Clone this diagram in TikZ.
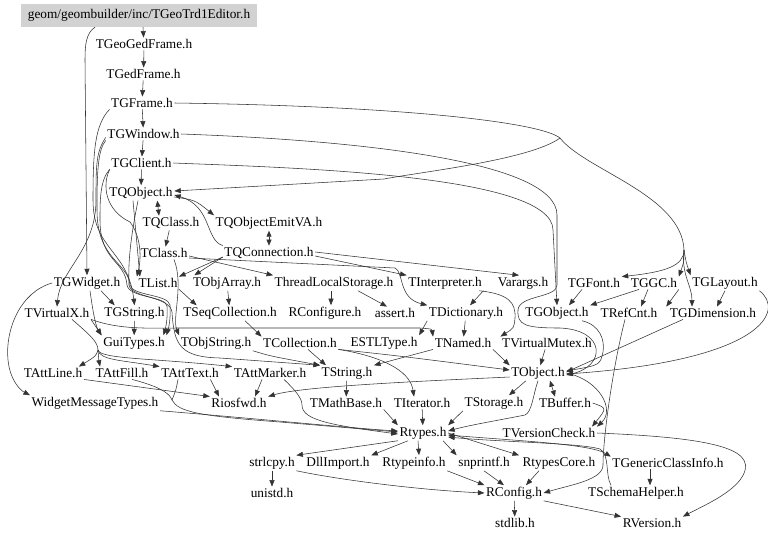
\documentclass[tikz,border=0pt]{standalone}
\usepackage{fontspec}
\setmainfont{Liberation Serif}
\usetikzlibrary{arrows.meta}
\newcommand\fsz{\fontsize{13.3}{16}\selectfont}
\tikzset{
  hdr/.style={font=\fsz, inner sep=1.5pt},
  ln/.style={draw=black!80, line width=0.55pt},
  e/.style={ln, -{Triangle[length=6.5pt,width=5pt]}},
  both/.style={ln, {Triangle[length=6pt,width=5pt]}-{Triangle[length=6pt,width=5pt]}},
}
\begin{document}
\begin{tikzpicture}[x=1pt,y=-1pt]
\useasboundingbox[fill=white] (0,0) rectangle (768,539);
% nodes
\node[hdr, fill=gray!35, minimum width=236pt, minimum height=23pt] (root) at (139,15.5) {geom/geombuilder/inc/TGeoTrd1Editor.h};
\node[hdr] (geoged) at (144,44) {TGeoGedFrame.h};
\node[hdr] (gedframe) at (143.5,74) {TGedFrame.h};
\node[hdr] (gframe) at (142,103) {TGFrame.h};
\node[hdr] (gwindow) at (143.5,134) {TGWindow.h};
\node[hdr] (gclient) at (141.5,163) {TGClient.h};
\node[hdr] (qobject) at (141,193) {TQObject.h};
\node[hdr] (qclass) at (171,223) {TQClass.h};
\node[hdr] (qemit) at (269,223) {TQObjectEmitVA.h};
\node[hdr] (tclass) at (164,253) {TClass.h};
\node[hdr] (qconn) at (269,253) {TQConnection.h};
\node[hdr] (gwidget) at (87,283) {TGWidget.h};
\node[hdr] (tlist) at (158,283) {TList.h};
\node[hdr] (objarray) at (227,283) {TObjArray.h};
\node[hdr] (tls) at (334,283) {ThreadLocalStorage.h};
\node[hdr] (interp) at (445,283) {TInterpreter.h};
\node[hdr] (varargs) at (523,283) {Varargs.h};
\node[hdr] (gfont) at (594,283) {TGFont.h};
\node[hdr] (ggc) at (654,283) {TGGC.h};
\node[hdr] (glayout) at (725,283) {TGLayout.h};
\node[hdr] (vx) at (57,313) {TVirtualX.h};
\node[hdr] (gstring) at (134.5,313) {TGString.h};
\node[hdr] (seqcoll) at (230,313) {TSeqCollection.h};
\node[hdr] (rconfigure) at (325,313) {RConfigure.h};
\node[hdr] (assert) at (395,313) {assert.h};
\node[hdr] (dict) at (466,313) {TDictionary.h};
\node[hdr] (gobject) at (557,313) {TGObject.h};
\node[hdr] (refcnt) at (629,313) {TRefCnt.h};
\node[hdr] (gdim) at (713,313) {TGDimension.h};
\node[hdr] (guitypes) at (134,343) {GuiTypes.h};
\node[hdr] (objstring) at (216,343) {TObjString.h};
\node[hdr] (coll) at (300,343) {TCollection.h};
\node[hdr] (estl) at (384,343) {ESTLType.h};
\node[hdr] (named) at (463,343) {TNamed.h};
\node[hdr] (vmutex) at (547,343) {TVirtualMutex.h};
\node[hdr] (attline) at (53,373) {TAttLine.h};
\node[hdr] (attfill) at (122,373) {TAttFill.h};
\node[hdr] (atttext) at (190,373) {TAttText.h};
\node[hdr] (attmarker) at (270,373) {TAttMarker.h};
\node[hdr] (tstring) at (347,373) {TString.h};
\node[hdr] (tobject) at (538,373) {TObject.h};
\node[hdr] (wmt) at (95,403) {WidgetMessageTypes.h};
\node[hdr] (riosfwd) at (239,403) {Riosfwd.h};
\node[hdr] (mathbase) at (346,403) {TMathBase.h};
\node[hdr] (iterator) at (422,403) {TIterator.h};
\node[hdr] (storage) at (494,403) {TStorage.h};
\node[hdr] (buffer) at (565,403) {TBuffer.h};
\node[hdr] (rtypes) at (423,433) {Rtypes.h};
\node[hdr] (vcheck) at (549,433) {TVersionCheck.h};
\node[hdr] (strlcpy) at (272,463) {strlcpy.h};
\node[hdr] (dllimport) at (338,463) {DllImport.h};
\node[hdr] (rtypeinfo) at (414,463) {Rtypeinfo.h};
\node[hdr] (snprintf) at (484,463) {snprintf.h};
\node[hdr] (rtypescore) at (559,463) {RtypesCore.h};
\node[hdr] (gci) at (668,463) {TGenericClassInfo.h};
\node[hdr] (unistd) at (272,493) {unistd.h};
\node[hdr] (rconfig) at (514,493) {RConfig.h};
\node[hdr] (schema) at (636,493) {TSchemaHelper.h};
\node[hdr] (stdlib) at (515,523) {stdlib.h};
\node[hdr] (rversion) at (652,523) {RVersion.h};

% junction points of shared spline trunks
\coordinate (vtx) at (560,138);
\coordinate (fanA) at (684,250);
\coordinate (vxf) at (98,350);
\coordinate (rf) at (172,400);

% top chain
\draw[e] ([xshift=4pt]root.south) -- (geoged);
\draw[e] ([xshift=-44pt]root.south) .. controls (86,33) and (85,45) .. (85,60) -- (gwidget.north);
\draw[e] (geoged) -- (gedframe);
\draw[e] (gedframe) -- (gframe);
\draw[e] (gframe) -- (gwindow);
\draw[e] (gwindow) -- (gclient);
\draw[e] (gclient) -- (qobject);

% TGFrame trunk and fan on the right
\draw[ln] (gframe.east) .. controls (400,106) and (540,122) .. (vtx);
\draw[ln] (vtx) .. controls (585,170) and (682,195) .. (fanA);
\draw[e] (fanA) .. controls (684,266) and (665,272) .. (gfont.north east);
\draw[e] (fanA) .. controls (684,262) .. (ggc.north east);
\draw[e] (fanA) .. controls (686,262) .. (glayout.north west);
\draw[e] (fanA) .. controls (681,275) and (692,285) .. ([xshift=-21pt]gdim.north);
\draw[e] (vtx) .. controls (530,160) and (420,172) .. (384,179) -- ([yshift=2pt]qobject.east);
\draw[e] (gclient.east) .. controls (300,168) and (553,175) .. (553,230) -- (gobject.north);
\draw[e] (gwindow.east) .. controls (350,140) and (557,160) .. (557,215) -- (557,285) .. controls (557,298) and (519,295) .. (518,310) .. controls (517,325) and (525,328) .. (560,328) .. controls (606,330) and (606,366) .. ([yshift=-2pt]tobject.east);

% left cluster
\draw[e] ([yshift=3pt]gwindow.south west) .. controls (96,152) and (96,165) .. (96,200) .. controls (96,250) and (60,270) .. (vx.north);
\draw[e] (gframe.south west) .. controls (95,125) and (93,150) .. (93,200) .. controls (93,250) and (128,250) .. (gstring.north);
\draw[e] (gwindow.south west) .. controls (98,150) and (97,170) .. (97,210) .. controls (97,260) and (128,262) .. (130,285) .. controls (132,296) and (168,294) .. (170,305) .. controls (171,320) and (168,330) .. (guitypes.north east);
\draw[e] (gclient.south west) .. controls (100,180) and (100,200) .. (100,220) .. controls (100,262) and (125,260) .. (127,285) .. controls (129,298) and (166,296) .. (167,306) .. controls (168,320) and (165,330) .. ([xshift=-3pt]guitypes.north east);
\draw[e] (gclient.south west) .. controls (102,185) and (105,210) .. (130,222) .. controls (140,235) and (142,255) .. (tlist.north west);
\draw[e] ([xshift=-8pt]qobject.south) -- ([xshift=3pt]tlist.north west);
\draw[e] ([xshift=-3pt]qobject.south) .. controls (130,240) and (128,265) .. (129,285) .. controls (131,298) and (170,296) .. (172,312) .. controls (174,345) and (180,357) .. (220,358) -- (tstring.north west);

% TQ cluster
\draw[both] ([xshift=-17pt]qobject.south east) -- ([xshift=-12pt]qclass.north);
\draw[e] ([yshift=-4pt]qobject.east) .. controls (195,200) .. (qemit.north west);
\draw[e] (qconn.north west) .. controls (205,240) and (212,206) .. ([yshift=-2pt]qobject.east);
\draw[both] (qemit) -- (qconn);
\draw[e] (qclass) -- (tclass);
\draw[e] ([yshift=-3pt]tclass.east) -- (tls.north west);
\draw[e] ([yshift=-4pt]qconn.west) -- (tlist.north east);
\draw[e] ([yshift=-4pt]qconn.west) -- ([xshift=3pt]objarray.north west);
\draw[e] ([yshift=-5pt]tclass.east) -- (395,268) .. controls (404,272) and (398,298) .. (dict.north west);
\draw[e] ([xshift=10pt]tclass.south) .. controls (184,285) and (172,318) .. (objstring.north west);
\draw[e] ([yshift=-3pt]qconn.east) -- (interp.north west);
\draw[e] ([yshift=1pt]qconn.east) -- ([xshift=-4pt]varargs.north);

% middle rows
\draw[e] (objarray) -- (seqcoll);
\draw[e] (tlist.south east) -- ([xshift=15pt]seqcoll.north west);
\draw[e] ([xshift=-3pt]tls.south) -- ([xshift=6pt]rconfigure.north);
\draw[e] ([xshift=24pt]tls.south) -- ([xshift=-8pt]assert.north);
\draw[e] (interp.south east) -- ([xshift=4pt]dict.north);
\draw[e] ([xshift=-4pt]interp.south east) .. controls (508,294) and (516,302) .. (515,318) .. controls (514,328) .. (vmutex.north west);
\draw[e] (dict) -- (named);
\draw[e] (dict.south west) -- (estl.north east);
\draw[e] (vx.south east) .. controls (120,330) and (150,328) .. (180,328) -- (420,328) .. controls (432,329) .. (named.north west);
\draw[e] ([xshift=15pt]seqcoll.south) -- (coll.north west);
\draw[e] (named.south east) -- (tobject.north west);
\draw[e] (vmutex) -- (tobject);
\draw[e] (named.south west) -- (tstring.north east);
\draw[e] ([xshift=8pt]coll.south) -- ([xshift=6pt]tstring.north west);
\draw[e] (coll.south east) .. controls (400,356) .. ([yshift=3pt]tobject.west);
\draw[e] (coll.south east) .. controls (380,356) and (410,370) .. ([xshift=-8pt]iterator.north);
\draw[e] (objstring.south east) .. controls (270,356) .. (tstring.north west);
\draw[e] ([xshift=14pt]gwidget.south) -- ([xshift=12pt]gstring.north west);
\draw[e] ([xshift=3pt]gwidget.south) .. controls (92,305) and (95,325) .. (guitypes.north west);
\draw[e] (gwidget.west) .. controls (20,292) and (5,330) .. (8,360) .. controls (10,380) and (20,390) .. (wmt.north west);
\draw[e] (gstring) -- (guitypes);
\draw[e] (vx.south east) -- (guitypes.north west);
\draw[ln] ([xshift=15pt]vx.south) .. controls (90,335) and (98,342) .. (vxf);
\draw[e] (vxf) .. controls (96,356) .. ([xshift=-5pt]attline.north east);
\draw[e] (vxf) .. controls (98,356) .. ([xshift=6pt]attfill.north west);
\draw[e] (vxf) .. controls (100,360) and (120,360) .. (atttext.north west);
\draw[e] (vxf) .. controls (100,359) and (150,358) .. (attmarker.north west);

% lower rows
\draw[e] (attline.south east) -- (riosfwd.north west);
\draw[e] ([xshift=-10pt]atttext.south east) -- ([xshift=-20pt]riosfwd.north);
\draw[e] ([xshift=-8pt]attmarker.south) -- ([xshift=16pt]riosfwd.north);
\draw[e] ([yshift=-4pt]tobject.west) .. controls (400,382) and (300,387) .. (riosfwd.north east);
\draw[ln] ([xshift=10pt]attfill.south) .. controls (165,388) and (170,395) .. (rf);
\draw[ln] ([xshift=-12pt]atttext.south) .. controls (176,390) .. (rf);
\draw[e] (rf) .. controls (178,412) and (200,416) .. (280,422) -- ([yshift=1pt]rtypes.west);
\draw[e] ([xshift=14pt]attmarker.south) .. controls (295,390) and (302,398) .. (302,405) .. controls (302,420) and (330,425) .. ([yshift=-1pt]rtypes.west);
\draw[e] (wmt.south east) .. controls (250,418) and (350,428) .. ([yshift=2pt]rtypes.west);
\draw[e] (tstring) -- (mathbase);
\draw[e] (mathbase.south east) -- (rtypes.north west);
\draw[e] (iterator) -- (rtypes);
\draw[e] (storage.south west) -- (rtypes.north east);
\draw[e] (tobject.south) .. controls (533,395) and (532,412) .. (525,415) .. controls (500,420) and (470,425) .. ([yshift=2pt]rtypes.east);
\draw[e] ([xshift=-12pt]tobject.south) -- ([xshift=15pt]storage.north);
\draw[both] ([xshift=12pt]tobject.south) -- ([xshift=-10pt]buffer.north);
\draw[e] (tobject.east) .. controls (600,380) and (615,410) .. (vcheck.north east);
\draw[e] (buffer.east) .. controls (607,408) .. ([xshift=-5pt]vcheck.north east);
\draw[e] ([xshift=25pt]gobject.south) .. controls (600,325) and (605,340) .. (603,352) .. controls (600,365) .. ([yshift=2pt]tobject.east);
\draw[e] ([xshift=-30pt]gdim.south) -- ([yshift=1pt]tobject.east);
\draw[e] (glayout.south east) .. controls (785,310) and (765,360) .. ([yshift=-1pt]tobject.east);
\draw[e] ([xshift=-4pt]refcnt.south) .. controls (612,370) and (603,440) .. (603,465) .. controls (603,480) and (570,485) .. (rconfig.east);
\draw[e] ([xshift=-12pt]gfont.south) -- ([xshift=12pt]gobject.north);
\draw[e] ([xshift=-15pt]ggc.south) -- (gobject.north east);
\draw[e] ([xshift=-6pt]ggc.south) -- ([xshift=12pt]refcnt.north);
\draw[e] (ggc.south east) -- ([xshift=-2pt]gdim.north west);
\draw[e] (glayout.south) -- ([xshift=4pt]gdim.north);

% Rtypes fan
\draw[e] (rtypes.south west) -- (strlcpy.north east);
\draw[e] ([xshift=-15pt]rtypes.south) -- (dllimport.north east);
\draw[e] ([xshift=-5pt]rtypes.south) -- ([xshift=5pt]rtypeinfo.north);
\draw[e] ([xshift=20pt]rtypes.south) -- (snprintf.north west);
\draw[e] (rtypes.east) -- ([xshift=-40pt]rtypescore.north);
\draw[both] ([yshift=-2pt]rtypes.east) .. controls (520,441) and (590,444) .. (gci.north west);
\draw[e] ([xshift=-25pt]schema.north) .. controls (605,475) and (610,455) .. (600,449) .. controls (580,443) and (500,442) .. ([yshift=-4pt]rtypes.east);
\draw[e] ([xshift=-18pt]gci.south) -- ([xshift=14pt]schema.north);
\draw[e] (strlcpy) -- (unistd);
\draw[e] (strlcpy.south east) .. controls (340,480) and (420,490) .. (rconfig.west);
\draw[e] (rtypeinfo.south east) -- (rconfig.north west);
\draw[e] (snprintf.south) -- ([xshift=-10pt]rconfig.north);
\draw[e] ([xshift=-20pt]rtypescore.south) -- ([xshift=12pt]rconfig.north);
\draw[e] (rconfig) -- (stdlib);
\draw[e] (rconfig.south east) -- (rversion.north west);
\draw[e] (vcheck.east) .. controls (720,438) and (762,450) .. (740,480) .. controls (728,495) and (705,505) .. (rversion.north east);
\end{tikzpicture}
\end{document}
